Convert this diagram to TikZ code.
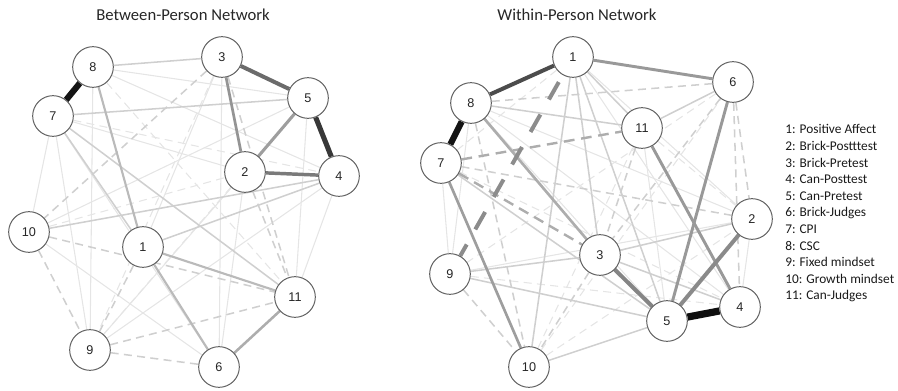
\documentclass[tikz,border=0pt]{standalone}
\usepackage{fontspec}
\setmainfont{Carlito}
\newfontfamily\numfont{Liberation Sans}
\usetikzlibrary{backgrounds}

\tikzset{
  var/.style={circle, draw=black!62, line width=0.75pt, fill=white,
    minimum size=30.5pt, inner sep=0pt, text=black!85,
    font=\numfont\fontsize{9.5}{10}\selectfont},
  faint/.style={draw=black!10, line width=0.8pt},
  weak/.style={draw=black!19, line width=1.15pt},
  faintneg/.style={faint, dash pattern=on 6pt off 4pt},
  weakneg/.style={weak, dash pattern=on 6pt off 4pt},
  title/.style={text=black!85, font=\fontsize{12.5}{14}\selectfont},
  legend/.style={anchor=base west, inner sep=0pt, text=black!90,
    font=\fontsize{10}{12}\selectfont}
}

\begin{document}
\begin{tikzpicture}[x=0.75pt, y=-0.75pt]
    % Frame of the picture
    \useasboundingbox (0,0) rectangle (898,391);

    % Titles
    \node [title] (ltitle) at (183,15) {Between-Person Network};
    \node [title] (rtitle) at (577,15) {Within-Person Network};

    % Between-person nodes
    \node [var] (l1)  at (143,247) {1};
    \node [var] (l2)  at (245,172) {2};
    \node [var] (l3)  at (222,57)  {3};
    \node [var] (l4)  at (339,176) {4};
    \node [var] (l5)  at (308,98)  {5};
    \node [var] (l6)  at (219,367) {6};
    \node [var] (l7)  at (53,116)  {7};
    \node [var] (l8)  at (93,67)   {8};
    \node [var] (l9)  at (90,350)  {9};
    \node [var] (l10) at (29,232)  {10};
    \node [var] (l11) at (295,297) {11};

    % Within-person nodes
    \node [var] (r1)  at (573,57)  {1};
    \node [var] (r2)  at (752,219) {2};
    \node [var] (r3)  at (600,255) {3};
    \node [var] (r4)  at (740,307) {4};
    \node [var] (r5)  at (667,321) {5};
    \node [var] (r6)  at (733,82)  {6};
    \node [var] (r7)  at (441,163) {7};
    \node [var] (r8)  at (471,103) {8};
    \node [var] (r9)  at (450,274) {9};
    \node [var] (r10) at (529,367) {10};
    \node [var] (r11) at (642,128) {11};

    % Legend
    \foreach \txt [count=\i] in {1: Positive Affect, 2: Brick-Postttest,
        3: Brick-Pretest, 4: Can-Posttest, 5: Can-Pretest, 6: Brick-Judges,
        7: CPI, 8: CSC, 9: Fixed mindset, 10: Growth mindset, 11: Can-Judges}
      \node [legend] (key\i) at (785,{134+16.6*(\i-1)}) {\txt};

    \begin{pgfonlayer}{background}
    % Between-person edges, weakest first
    \foreach \a/\b in {l10/l7, l7/l9, l5/l11, l4/l11, l2/l6, l9/l4, l10/l6,
        l9/l2, l8/l5, l8/l4, l7/l6, l10/l5, l3/l6, l8/l9, l3/l1, l7/l2}
      \draw [faint] (\a) -- (\b);
    \foreach \a/\b in {l10/l2, l8/l11, l7/l4, l9/l5, l3/l9}
      \draw [faintneg] (\a) -- (\b);
    \foreach \a/\b in {l8/l3, l7/l5, l10/l4, l1/l4, l7/l1, l7/l11}
      \draw [weak] (\a) -- (\b);
    \foreach \a/\b in {l3/l10, l3/l11, l2/l11, l10/l9, l1/l9, l9/l6, l9/l11,
        l10/l11}
      \draw [weakneg] (\a) -- (\b);
    \foreach \a/\b in {l8/l1, l1/l11, l1/l6}
      \draw [draw=black!27, line width=1.6pt] (\a) -- (\b);
    \draw [draw=black!32, line width=1.9pt] (l11) -- (l6);
    \draw [draw=black!42, line width=2pt] (l3) -- (l2);
    \draw [draw=black!38, line width=2.3pt] (l2) -- (l5);
    \draw [draw=black!52, line width=2.6pt] (l2) -- (l4);
    \draw [draw=black!58, line width=3pt] (l3) -- (l5);
    \draw [draw=black!78, line width=3.8pt] (l5) -- (l4);
    \draw [draw=black!92, line width=4.6pt] (l7) -- (l8);

    % Within-person edges, weakest first
    \foreach \a/\b in {r7/r9, r2/r4, r1/r4, r8/r9, r8/r4, r1/r2, r8/r2,
        r8/r5, r11/r5, r9/r2}
      \draw [faint] (\a) -- (\b);
    \foreach \a/\b in {r1/r7, r10/r11, r10/r6, r10/r2, r9/r4, r7/r4,
        r11/r2, r6/r9}
      \draw [faintneg] (\a) -- (\b);
    \foreach \a/\b in {r1/r10, r9/r3, r3/r2, r10/r5, r8/r11, r1/r5, r7/r5,
        r9/r5, r1/r11, r6/r11, r3/r4, r1/r3}
      \draw [weak] (\a) -- (\b);
    \foreach \a/\b in {r11/r3, r6/r3, r6/r2, r6/r4, r8/r6, r9/r10, r8/r10,
        r3/r10, r7/r2}
      \draw [weakneg] (\a) -- (\b);
    \foreach \a/\b in {r7/r11, r7/r3}
      \draw [draw=black!32, line width=1.8pt, dash pattern=on 8pt off 5pt]
        (\a) -- (\b);
    \draw [draw=black!32, line width=2pt] (r8) -- (r3);
    \draw [draw=black!38, line width=2pt] (r7) -- (r10);
    \foreach \a/\b in {r1/r6, r5/r6, r11/r4}
      \draw [draw=black!40, line width=2.2pt] (\a) -- (\b);
    \draw [draw=black!45, line width=3pt, dash pattern=on 15pt off 13pt,
      dash phase=-6pt] (r1) -- (r9);
    \draw [draw=black!48, line width=3pt] (r5) -- (r3);
    \draw [draw=black!46, line width=3pt] (r5) -- (r2);
    \draw [draw=black!70, line width=3pt] (r8) -- (r1);
    \draw [draw=black!92, line width=4.6pt] (r8) -- (r7);
    \draw [draw=black!94, line width=5.4pt] (r5) -- (r4);
    \end{pgfonlayer}
\end{tikzpicture}
\end{document}
